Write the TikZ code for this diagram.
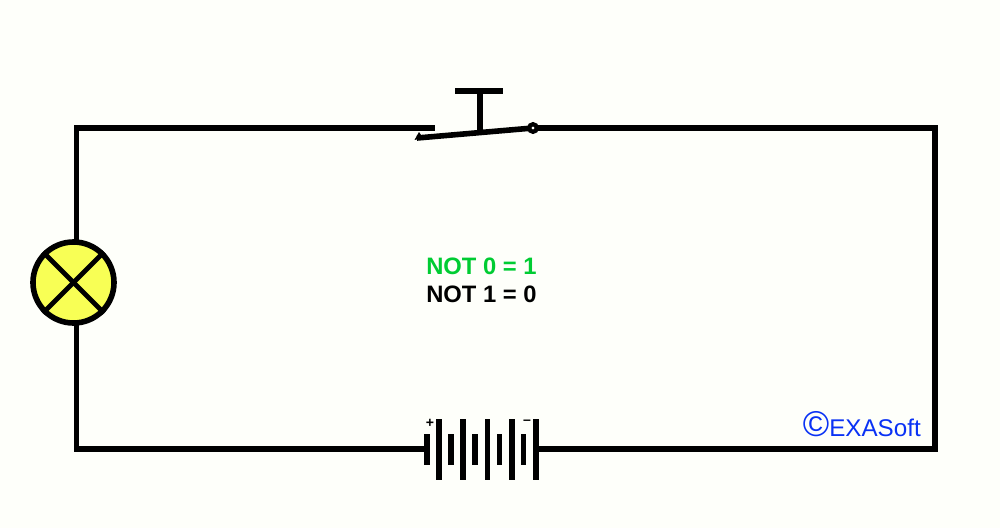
\documentclass[tikz,border=0pt]{standalone}
\usepackage{fontspec}
\setmainfont{Liberation Sans}
\definecolor{paper}{HTML}{FEFFFA}
\definecolor{lampyellow}{HTML}{F8FF55}
\definecolor{notgreen}{HTML}{00CC33}
\definecolor{logoblue}{HTML}{0A32F5}
\tikzset{
  wire/.style={line width=0.14cm, color=black, line join=miter},
  longplate/.style={fill=black, minimum width=0.135cm, minimum height=1.525cm, inner sep=0pt, outer sep=0pt},
  shortplate/.style={fill=black, minimum width=0.135cm, minimum height=0.775cm, inner sep=0pt, outer sep=0pt},
  notlabel/.style={font=\fontsize{16.9}{20}\selectfont\bfseries, inner sep=0pt}
}
\begin{document}
\begin{tikzpicture}[x=0.025cm, y=-0.025cm]
\fill[paper] (0,0) rectangle (1000,528);
\useasboundingbox (0,0) rectangle (1000,528);

% corners of the circuit
\coordinate (topleft) at (76.5,128);
\coordinate (topright) at (935,128);
\coordinate (bottomright) at (935,449);
\coordinate (bottomleft) at (76.5,449);
\coordinate (switchleft) at (435,128);
\coordinate (bladeend) at (417,138);
\coordinate (lamptop) at (76.5,242);
\coordinate (lampbottom) at (76.5,322);
\coordinate (stemtop) at (480,91);
\coordinate (stembottom) at (480,132);
\coordinate (barleft) at (455,91);
\coordinate (barright) at (503,91);

% battery
\foreach \x/\name in {439/a,463/b,487.5/c,512/d,536/e}
  \node[longplate] (long\name) at (\x,449) {};
\foreach \x/\name in {427/a,451/b,475/c,499.5/d,523.5/e}
  \node[shortplate] (short\name) at (\x,449) {};
\node[font=\fontsize{10}{10}\selectfont\bfseries, inner sep=0pt] (plus) at (430,423) {+};
\node[font=\fontsize{10}{10}\selectfont\bfseries, inner sep=0pt] (minus) at (527,422) {--};

% lamp and switch contact
\draw[wire] (shorta) -- (bottomleft) -- (lampbottom);
\draw[wire] (lamptop) -- (topleft) -- (switchleft);
\node[circle, draw=black, line width=0.14cm, fill=lampyellow, minimum size=2.025cm, inner sep=0pt] (lamp) at (73.5,282.5) {};
\draw[line width=0.12cm] (lamp.45) -- (lamp.225);
\draw[line width=0.12cm] (lamp.135) -- (lamp.315);
\node[circle, minimum size=0.1cm, inner sep=0pt, outer sep=0pt] (pivot) at (533,128) {};
\draw[wire] (pivot) -- (topright) -- (bottomright) -- (longe);

% switch
\draw[wire] (pivot) -- (bladeend);
\fill (414.5,140) -- (419,132) -- (423,138) -- cycle;
\draw[wire] (stembottom) -- (stemtop);
\draw[wire] (barleft) -- (barright);
\draw[line width=0.105cm, fill=paper] (pivot) circle (3.8);

% labels
\node[notlabel, text=notgreen, anchor=west] (notzero) at (426,266.5) {NOT 0 = 1};
\node[notlabel, text=black, anchor=west] (notone) at (426,294) {NOT 1 = 0};
\node[text=logoblue, anchor=base east, inner sep=0pt] (logo) at (921,436) {\fontsize{25.5}{26}\selectfont ©\fontsize{17.2}{26}\selectfont EXASoft};
\end{tikzpicture}
\end{document}
